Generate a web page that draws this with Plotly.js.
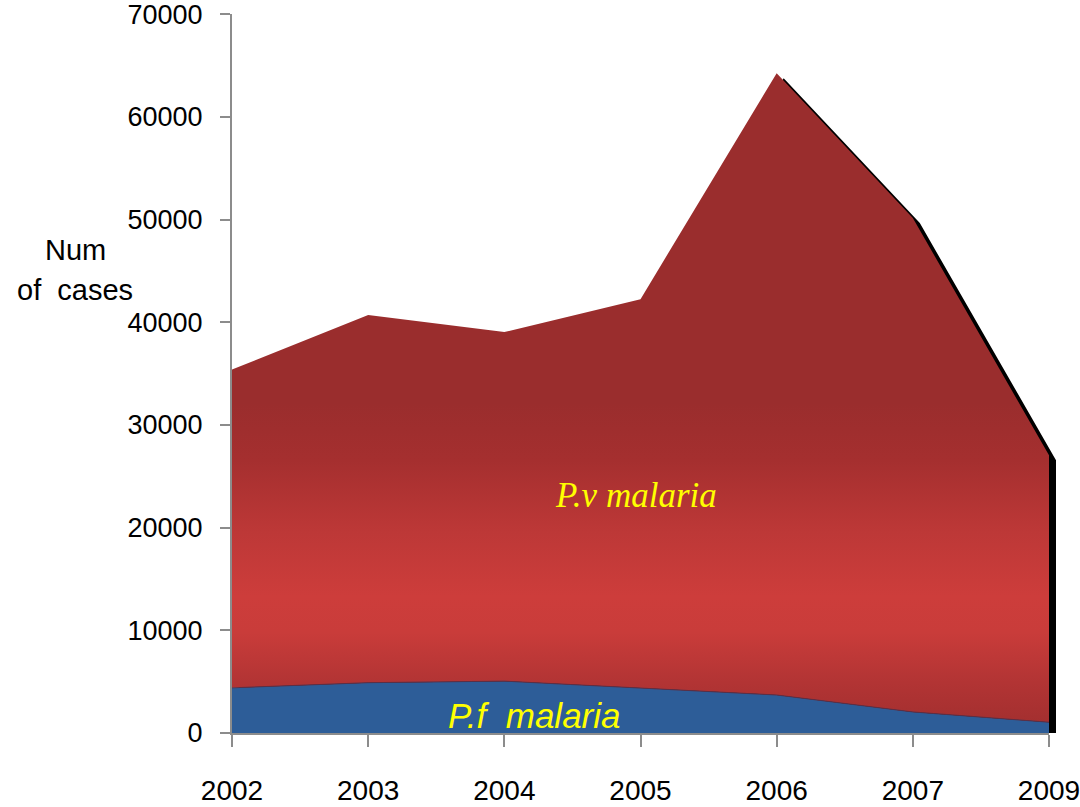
<!DOCTYPE html>
<html>
<head>
<meta charset="utf-8">
<script src="https://cdn.plot.ly/plotly-3.0.1.min.js"></script>
<style>html,body{margin:0;padding:0;background:#fff;}</style>
</head>
<body>
<div id="chart" style="width:1080px;height:807px;"></div>
<script>
const years = ['2002', '2003', '2004', '2005', '2006', '2007', '2009'];
const pfCases = [4400, 4900, 5050, 4400, 3700, 2050, 1050];
const pvCases = [31000, 35800, 34000, 37850, 60550, 48100, 26000];
const yTicks = [0, 10000, 20000, 30000, 40000, 50000, 60000, 70000];
const totalCases = years.map((_, i) => pfCases[i] + pvCases[i]);

const FONT = 'Liberation Sans, Arial, sans-serif';

const shadow = {
  x: years, y: totalCases, xaxis: 'x', yaxis: 'y',
  type: 'scatter', mode: 'lines', fill: 'tozeroy',
  fillcolor: '#000000', line: {width: 0, color: '#000000'},
  hoverinfo: 'skip'
};
const pf = {
  x: years, y: pfCases, xaxis: 'x2', yaxis: 'y2', name: 'P.f malaria',
  type: 'scatter', mode: 'lines', stackgroup: 'one',
  fillcolor: '#2d5d98', line: {width: 1, color: '#5a3048'}
};
const pv = {
  x: years, y: pvCases, xaxis: 'x2', yaxis: 'y2', name: 'P.v malaria',
  type: 'scatter', mode: 'lines', stackgroup: 'one',
  line: {width: 0, color: '#9a2d2d'},
  fillcolor: '#b83736',
  fillgradient: {
    type: 'vertical', start: 0, stop: 70000,
    colorscale: [
      [0, '#a02e2e'], [0.07, '#b23434'], [0.14, '#c93c3a'], [0.19, '#cd3d3b'],
      [0.28, '#bd3837'], [0.38, '#a52f2f'], [0.46, '#9a2d2d'], [1, '#9a2d2d']
    ]
  }
};

const W = 824;
const YMAX = 70020;
const layout = {
  width: 1080, height: 807,
  margin: {l: 232, r: 24, t: 14, b: 74},
  paper_bgcolor: '#ffffff', plot_bgcolor: 'rgba(0,0,0,0)',
  showlegend: false,
  font: {family: FONT, color: '#000'},
  xaxis: {
    domain: [7 / W, 1], type: 'category', categoryorder: 'array', categoryarray: years,
    range: [0, 6], visible: false, anchor: 'y', fixedrange: true
  },
  yaxis: {
    domain: [0, 1], range: [490, YMAX + 490], visible: false, anchor: 'x', fixedrange: true
  },
  xaxis2: {
    domain: [0, 817 / W], type: 'category', categoryorder: 'array', categoryarray: years,
    range: [0, 6], anchor: 'y2',
    showline: true, linecolor: '#8c8c8c', linewidth: 2,
    ticks: 'outside', ticklen: 12, tickwidth: 2, tickcolor: '#8c8c8c',
    showgrid: false, zeroline: false,
    tickfont: {family: FONT, size: 28, color: '#000'},
    ticklabelstandoff: 19
  },
  yaxis2: {
    domain: [0, 1], range: [0, YMAX], tickmode: 'array', tickvals: yTicks,
    ticktext: yTicks.map(String), anchor: 'x2',
    showline: true, linecolor: '#8c8c8c', linewidth: 2,
    ticks: 'outside', ticklen: 10, tickwidth: 2, tickcolor: '#8c8c8c',
    showgrid: false, zeroline: false,
    ticklabeloverflow: 'allow',
    tickfont: {family: FONT, size: 27, color: '#000'},
    ticklabelstandoff: 12
  },
  annotations: [
    {xref: 'x2', yref: 'y2', x: 2.97, y: 23100, text: '<i>P.v malaria</i>', showarrow: false,
     font: {family: 'Liberation Serif, Times New Roman, serif', size: 35, color: '#ffff00'}},
    {xref: 'x2', yref: 'y2', x: 2.22, y: 1750, text: '<i>P.f  malaria</i>', showarrow: false,
     font: {family: FONT, size: 35, color: '#ffff00'}},
    {xref: 'paper', yref: 'paper', x: -0.19, y: (807 - 74 - 250) / 719, xanchor: 'center', yanchor: 'middle',
     text: 'Num', showarrow: false, font: {family: FONT, size: 29, color: '#000'}},
    {xref: 'paper', yref: 'paper', x: -0.19, y: (807 - 74 - 290) / 719, xanchor: 'center', yanchor: 'middle',
     text: 'of  cases', showarrow: false, font: {family: FONT, size: 29, color: '#000'}}
  ]
};

Plotly.newPlot('chart', [shadow, pf, pv], layout, {displayModeBar: false, staticPlot: true});
</script>
</body>
</html>
